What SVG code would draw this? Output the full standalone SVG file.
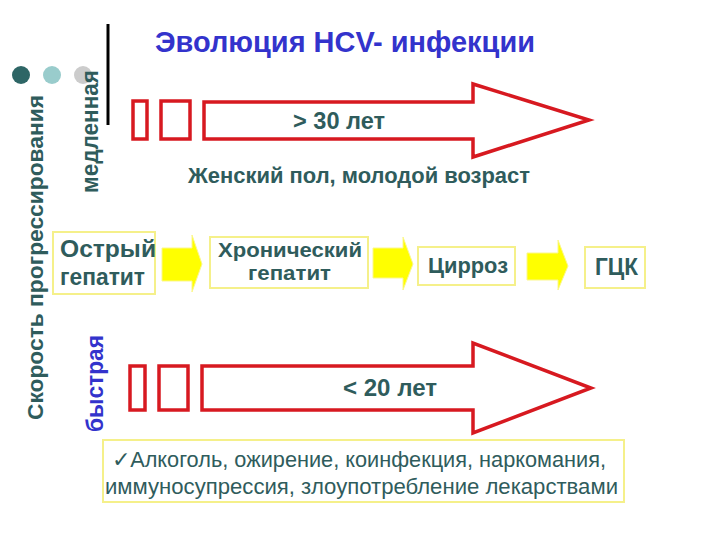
<svg xmlns="http://www.w3.org/2000/svg" width="720" height="540" viewBox="0 0 720 540">
<style>
text{font-family:"Liberation Sans",Arial,sans-serif;fill:#2f5c5c}
.b{font-weight:bold}
.blue{fill:#3333cc}
.red{fill:#fff;stroke:#d71920;stroke-width:3.5}
.box{fill:#fff;stroke:#f5f08a;stroke-width:2}
.ya{fill:#ffff00;stroke:#fbf78c;stroke-width:1}
</style>
<rect width="720" height="540" fill="#fff"/>
<g id="bullets">
<circle cx="21" cy="75" r="9" fill="#2e6666"/>
<circle cx="52" cy="75" r="9" fill="#99cccc"/>
<circle cx="83" cy="75" r="9" fill="#cccccc"/>
</g>
<line x1="108" y1="24" x2="108" y2="125" stroke="#000" stroke-width="3"/>
<text class="b blue" x="155" y="52" font-size="29" textLength="380" lengthAdjust="spacingAndGlyphs">Эволюция HCV- инфекции</text>
<text class="b" transform="translate(43,420) rotate(-90)" font-size="22.5" textLength="325" lengthAdjust="spacingAndGlyphs">Скорость прогрессирования</text>
<text class="b" transform="translate(98,193) rotate(-90)" font-size="23" textLength="123" lengthAdjust="spacingAndGlyphs">медленная</text>
<text class="b blue" transform="translate(103,432) rotate(-90)" font-size="23" textLength="97" lengthAdjust="spacingAndGlyphs">быстрая</text>
<g id="slow">
<rect class="red" x="133" y="101" width="14" height="38"/>
<rect class="red" x="161" y="101" width="29" height="38"/>
<polygon class="red" points="204,102 473,102 473,84 589,120 473,157 473,139 204,139"/>
<text class="b" x="293" y="129" font-size="24" textLength="92" lengthAdjust="spacingAndGlyphs">&gt; 30 лет</text>
<text class="b" x="188" y="183" font-size="22" textLength="342" lengthAdjust="spacingAndGlyphs">Женский пол, молодой возраст</text>
</g>
<g id="fast">
<rect class="red" x="130" y="366" width="15" height="44"/>
<rect class="red" x="159" y="366" width="29" height="44"/>
<polygon class="red" points="202,366 473,366 473,343 591,388 473,433 473,410 202,410"/>
<text class="b" x="343" y="396" font-size="24" textLength="94" lengthAdjust="spacingAndGlyphs">&lt; 20 лет</text>
</g>
<g id="connectors">
<polygon class="ya" points="162,248 192,248 192,235 202,264 192,292 192,281 162,281"/>
<polygon class="ya" points="373,248 403,248 403,237 413,264 403,290 403,278 373,278"/>
<polygon class="ya" points="527,253 558,253 558,240 568,266 558,290 558,280 527,280"/>
</g>
<g id="acute">
<rect class="box" x="53" y="232" width="102" height="62"/>
<text class="b" x="60" y="257" font-size="23" textLength="96" lengthAdjust="spacingAndGlyphs">Острый</text>
<text class="b" x="60" y="285" font-size="23" textLength="85" lengthAdjust="spacingAndGlyphs">гепатит</text>
</g>
<g id="chronic">
<rect class="box" x="210" y="237" width="158" height="51"/>
<text class="b" x="218" y="257" font-size="19.5" textLength="144" lengthAdjust="spacingAndGlyphs">Хронический</text>
<text class="b" x="248" y="280" font-size="19.5" textLength="83" lengthAdjust="spacingAndGlyphs">гепатит</text>
</g>
<g id="cirrhosis">
<rect class="box" x="418" y="247" width="97" height="38"/>
<text class="b" x="428" y="273" font-size="22" textLength="80" lengthAdjust="spacingAndGlyphs">Цирроз</text>
</g>
<g id="hcc">
<rect class="box" x="585" y="247" width="60" height="41"/>
<text class="b" x="595" y="275" font-size="23" textLength="43" lengthAdjust="spacingAndGlyphs">ГЦК</text>
</g>
<g id="factors">
<rect class="box" x="103" y="440" width="521" height="62"/>
<text x="112" y="467" font-size="21.5" textLength="494" lengthAdjust="spacingAndGlyphs">✓Алкоголь, ожирение, коинфекция, наркомания,</text>
<text x="105" y="494" font-size="21.5" textLength="513" lengthAdjust="spacingAndGlyphs">иммуносупрессия, злоупотребление лекарствами</text>
</g>
</svg>
